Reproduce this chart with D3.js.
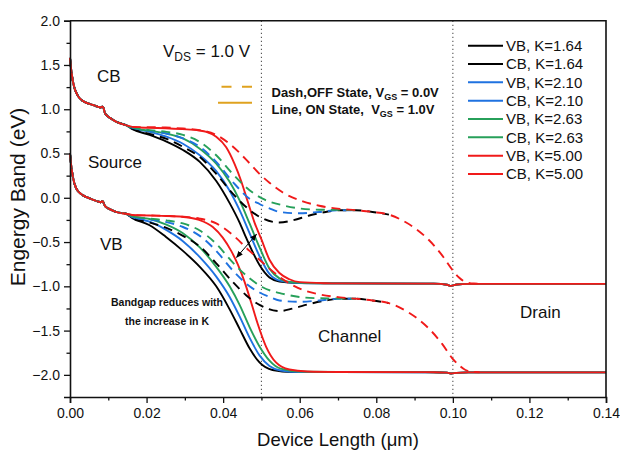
<!DOCTYPE html>
<html>
<head>
<meta charset="utf-8">
<script src="https://cdn.jsdelivr.net/npm/d3@7"></script>
<style>
  body { margin: 0; background: #fff; }
  text { font-family: "Liberation Sans", Arial, Helvetica, sans-serif; fill: #111; }
</style>
</head>
<body>
<svg id="chart" width="620" height="457"></svg>
<script>
// ---- band-edge profiles, [position (µm), energy (eV)] ----
// shared source-side segment (identical for every K and gate state)
const sourceCB = [[0,1.58],[0.0003,1.45],[0.0007,1.33],[0.0011,1.25],[0.0016,1.19],[0.0024,1.13],[0.0033,1.095],[0.0042,1.075],[0.0059,1.05],[0.0072,1.03],[0.0080,1.02],[0.0084,1.03],[0.0087,1.02],[0.0091,0.96],[0.0096,0.93],[0.0105,0.9],[0.012,0.86],[0.0146,0.82]];
const sourceVB = [[0,0.50],[0.0003,0.37],[0.0007,0.25],[0.0011,0.17],[0.0016,0.11],[0.0024,0.06],[0.0033,0.03],[0.0042,0.01],[0.0059,-0.02],[0.0072,-0.04],[0.0080,-0.05],[0.0084,-0.04],[0.0087,-0.05],[0.0091,-0.09],[0.0096,-0.11],[0.0105,-0.13],[0.012,-0.16],[0.0146,-0.18]];

// ON state (VGS = 1.0 V), channel part
const onCB_164 = [[0.0163,0.775],[0.0208,0.71],[0.0252,0.635],[0.0295,0.54],[0.0339,0.405],[0.0382,0.19],[0.0417,-0.06],[0.0443,-0.28],[0.046,-0.45],[0.0478,-0.62],[0.0495,-0.76],[0.0521,-0.9],[0.0547,-0.945],[0.06,-0.963]];
const onCB_210 = [[0.0163,0.785],[0.0208,0.745],[0.0252,0.69],[0.0295,0.61],[0.0339,0.48],[0.0382,0.3],[0.0417,0.08],[0.0443,-0.14],[0.0469,-0.4],[0.0495,-0.66],[0.0521,-0.86],[0.0547,-0.935],[0.06,-0.962]];
const onCB_263 = [[0.0163,0.79],[0.0208,0.757],[0.0252,0.725],[0.0295,0.67],[0.0339,0.555],[0.0382,0.385],[0.0417,0.18],[0.0443,-0.03],[0.0469,-0.29],[0.0495,-0.56],[0.0521,-0.8],[0.0547,-0.91],[0.0573,-0.95],[0.062,-0.963]];
const onCB_500 = [[0.0163,0.80],[0.0208,0.79],[0.025,0.785],[0.0293,0.775],[0.0337,0.76],[0.0356,0.745],[0.0382,0.69],[0.0408,0.57],[0.043,0.38],[0.0447,0.19],[0.0464,-0.04],[0.0482,-0.28],[0.05,-0.47],[0.0521,-0.7],[0.0547,-0.85],[0.0573,-0.92],[0.06,-0.953],[0.0668,-0.965]];
const onTailCB = [[0.07,-0.967],[0.095,-0.97],[0.0985,-0.982],[0.0995,-0.995],[0.101,-0.98],[0.104,-0.972],[0.14,-0.972]];

const onVB_164 = [[0.0163,-0.23],[0.0208,-0.31],[0.025,-0.44],[0.0295,-0.6],[0.0339,-0.78],[0.0382,-1.0],[0.0417,-1.26],[0.0443,-1.48],[0.0469,-1.7],[0.0495,-1.86],[0.0529,-1.945],[0.058,-1.967]];
const onVB_210 = [[0.0163,-0.22],[0.0208,-0.27],[0.025,-0.36],[0.0295,-0.49],[0.0339,-0.67],[0.0382,-0.89],[0.0417,-1.12],[0.0443,-1.34],[0.0469,-1.58],[0.0495,-1.78],[0.0521,-1.9],[0.055,-1.95],[0.06,-1.967]];
const onVB_263 = [[0.0163,-0.21],[0.0208,-0.24],[0.025,-0.3],[0.0295,-0.4],[0.0339,-0.56],[0.0382,-0.78],[0.0417,-1.0],[0.0443,-1.21],[0.0469,-1.46],[0.0495,-1.68],[0.0521,-1.84],[0.055,-1.93],[0.06,-1.962]];
const onVB_500 = [[0.0163,-0.195],[0.0207,-0.2],[0.025,-0.205],[0.0293,-0.215],[0.0337,-0.25],[0.0373,-0.33],[0.0399,-0.45],[0.0421,-0.6],[0.0438,-0.75],[0.0456,-0.95],[0.0473,-1.18],[0.049,-1.42],[0.0512,-1.68],[0.0538,-1.86],[0.0573,-1.94],[0.062,-1.962]];
const onTailVB = [[0.07,-1.967],[0.095,-1.97],[0.0985,-1.975],[0.0995,-1.985],[0.101,-1.977],[0.104,-1.972],[0.14,-1.972]];

// OFF state (VGS = 0.0 V), channel part
const offCB_164 = [[0.0163,0.78],[0.0208,0.72],[0.0252,0.665],[0.0295,0.575],[0.0339,0.46],[0.0382,0.27],[0.0425,0.047],[0.046,-0.104],[0.0495,-0.215],[0.0547,-0.28],[0.0582,-0.255],[0.0625,-0.2],[0.0668,-0.16],[0.0705,-0.14]];
const offCB_210 = [[0.0163,0.79],[0.0208,0.756],[0.0252,0.726],[0.0295,0.67],[0.0339,0.575],[0.0382,0.405],[0.0425,0.18],[0.0469,-0.01],[0.0495,-0.07],[0.0521,-0.12],[0.0547,-0.16],[0.0599,-0.175],[0.0651,-0.16],[0.0705,-0.14]];
const offCB_263 = [[0.0163,0.795],[0.0208,0.764],[0.0252,0.745],[0.0295,0.71],[0.0339,0.63],[0.0382,0.48],[0.0425,0.27],[0.0469,0.085],[0.0503,-0.01],[0.0556,-0.085],[0.0599,-0.12],[0.0651,-0.135],[0.0705,-0.137]];
const offCB_500 = [[0.0163,0.80],[0.0207,0.797],[0.025,0.793],[0.0295,0.782],[0.0339,0.764],[0.0382,0.71],[0.0425,0.58],[0.0469,0.39],[0.0495,0.27],[0.0521,0.17],[0.0556,0.06],[0.0608,-0.04],[0.0651,-0.09],[0.0705,-0.125]];
const offTailCB = [[0.0747,-0.14],[0.079,-0.16],[0.0833,-0.19],[0.0868,-0.255],[0.0903,-0.35],[0.0938,-0.48],[0.0972,-0.65],[0.0998,-0.81],[0.1016,-0.9],[0.1033,-0.95],[0.1055,-0.968],[0.107,-0.97]];

const offVB_164 = [[0.0163,-0.23],[0.0208,-0.28],[0.0252,-0.34],[0.0295,-0.43],[0.0339,-0.55],[0.0382,-0.74],[0.0425,-0.95],[0.046,-1.1],[0.0495,-1.21],[0.0547,-1.28],[0.0582,-1.25],[0.0625,-1.2],[0.0668,-1.16],[0.0705,-1.14]];
const offVB_210 = [[0.0163,-0.22],[0.0208,-0.245],[0.0252,-0.275],[0.0295,-0.33],[0.0339,-0.43],[0.0382,-0.6],[0.0425,-0.82],[0.0469,-1.0],[0.0495,-1.07],[0.0521,-1.12],[0.0547,-1.16],[0.0599,-1.175],[0.0651,-1.16],[0.0705,-1.14]];
const offVB_263 = [[0.0163,-0.21],[0.0208,-0.235],[0.0252,-0.255],[0.0295,-0.29],[0.0339,-0.37],[0.0382,-0.52],[0.0425,-0.73],[0.0469,-0.91],[0.0503,-1.01],[0.0556,-1.085],[0.0599,-1.12],[0.0651,-1.135],[0.0705,-1.137]];
const offVB_500 = [[0.0163,-0.195],[0.0207,-0.2],[0.025,-0.205],[0.0295,-0.215],[0.0339,-0.235],[0.0382,-0.29],[0.0425,-0.42],[0.0469,-0.6],[0.0495,-0.7],[0.0521,-0.8],[0.0556,-0.92],[0.0608,-1.04],[0.0651,-1.09],[0.0705,-1.125]];
const offTailVB = [[0.0747,-1.14],[0.079,-1.16],[0.0833,-1.19],[0.0868,-1.255],[0.0903,-1.35],[0.0938,-1.48],[0.0972,-1.65],[0.0998,-1.81],[0.1016,-1.89],[0.1033,-1.945],[0.1055,-1.968],[0.107,-1.97]];

const kValues = ["1.64", "2.10", "2.63", "5.00"];
const kColors = ["#000000", "#1f72e0", "#27a05a", "#f01a1a"];
// how far (µm) each OFF-state dashed trace is drawn once it joins the common tail
const offTailEnd = [0.084, 0.076, 0.076, 0.107];
const xTicks = [0, 0.02, 0.04, 0.06, 0.08, 0.10, 0.12, 0.14];
const yTicks = [-2.0, -1.5, -1.0, -0.5, 0.0, 0.5, 1.0, 1.5, 2.0];
const regionBounds = [0.05, 0.10];

// ---- assemble series ----
const onCB = [onCB_164, onCB_210, onCB_263, onCB_500];
const onVB = [onVB_164, onVB_210, onVB_263, onVB_500];
const offCB = [offCB_164, offCB_210, offCB_263, offCB_500];
const offVB = [offVB_164, offVB_210, offVB_263, offVB_500];

const solidSeries = [], dashedSeries = [];
kValues.forEach((k, i) => {
  const upTo = p => p[0] <= offTailEnd[i];
  solidSeries.push({ color: kColors[i], pts: sourceVB.concat(onVB[i], onTailVB) });
  solidSeries.push({ color: kColors[i], pts: sourceCB.concat(onCB[i], onTailCB) });
  dashedSeries.push({ color: kColors[i], pts: sourceVB.concat(offVB[i], offTailVB.filter(upTo)) });
  dashedSeries.push({ color: kColors[i], pts: sourceCB.concat(offCB[i], offTailCB.filter(upTo)) });
});

// ---- layout ----
const svg = d3.select("#chart");
const L = 70, R = 606, T = 20.7, B = 397;
const x = d3.scaleLinear().domain([0, 0.14]).range([L, R]);
const y = d3.scaleLinear().domain([-2.25, 2.0]).range([B, T]);

const line = d3.line().x(d => x(d[0])).y(d => y(d[1])).curve(d3.curveMonotoneX);

// region separators
svg.selectAll(".sep").data(regionBounds).join("line")
  .attr("x1", d => x(d)).attr("x2", d => x(d))
  .attr("y1", T).attr("y2", B)
  .attr("stroke", "#555").attr("stroke-width", 1.1)
  .attr("stroke-dasharray", "1.3,2.7");

const plot = svg.append("g");
plot.selectAll(".solid").data(solidSeries).join("path")
  .attr("d", d => line(d.pts)).attr("fill", "none")
  .attr("stroke", d => d.color).attr("stroke-width", 1.9);
plot.selectAll(".dash").data(dashedSeries).join("path")
  .attr("d", d => line(d.pts)).attr("fill", "none")
  .attr("stroke", d => d.color).attr("stroke-width", 1.9)
  .attr("stroke-dasharray", "9,6");

// ---- axes ----
const xAxis = d3.axisBottom(x).tickValues(xTicks).tickFormat(d3.format(".2f")).tickSize(6).tickPadding(5);
const xMinor = d3.axisBottom(x).tickValues(d3.range(0.01, 0.14, 0.02)).tickFormat("").tickSize(3.5);
const yAxis = d3.axisLeft(y).tickValues(yTicks).tickFormat(d3.format(".1f")).tickSize(6).tickPadding(4);
const yMinor = d3.axisLeft(y).tickValues(d3.range(-1.75, 2.0, 0.5)).tickFormat("").tickSize(3.5);

function styleAxis(g) {
  g.select(".domain").attr("stroke", "#111").attr("stroke-width", 1.6);
  g.selectAll(".tick line").attr("stroke", "#111").attr("stroke-width", 1.3);
  g.selectAll(".tick text").attr("font-size", 14).attr("fill", "#111")
    .attr("font-family", "Liberation Sans, Arial, sans-serif");
}
svg.append("g").attr("transform", `translate(0,${B})`).call(xMinor).call(styleAxis).select(".domain").remove();
svg.append("g").attr("transform", `translate(0,${B})`).call(xAxis).call(styleAxis);
svg.append("g").attr("transform", `translate(${L},0)`).call(yMinor).call(styleAxis).select(".domain").remove();
svg.append("g").attr("transform", `translate(${L},0)`).call(yAxis).call(styleAxis);
// top and right frame
svg.append("path").attr("d", `M${L},${T}H${R}V${B}`).attr("fill", "none")
  .attr("stroke", "#111").attr("stroke-width", 1.6);

// axis titles
svg.append("text").attr("x", (L + R) / 2).attr("y", 446).attr("text-anchor", "middle")
  .attr("font-size", 18.5).text("Device Length (\u03bcm)");
svg.append("text").attr("transform", "translate(25,197) rotate(-90)")
  .attr("text-anchor", "middle").attr("font-size", 21).text("Engergy Band (eV)");

// ---- legend ----
const legendItems = [];
kValues.forEach((k, i) => {
  legendItems.push({ label: `VB, K=${k}`, color: kColors[i] });
  legendItems.push({ label: `CB, K=${k}`, color: kColors[i] });
});
const lg = svg.append("g");
legendItems.forEach((d, i) => {
  const ly = 45.7 + i * 18.33;
  lg.append("line").attr("x1", 468).attr("x2", 503).attr("y1", ly).attr("y2", ly)
    .attr("stroke", d.color).attr("stroke-width", 2);
  lg.append("text").attr("x", 506).attr("y", ly + 5.3).attr("font-size", 15).text(d.label);
});

// ---- annotations ----
const vds = svg.append("text").attr("x", 163).attr("y", 57).attr("font-size", 17);
vds.append("tspan").text("V");
vds.append("tspan").attr("font-size", 12).attr("dy", 4).text("DS");
vds.append("tspan").attr("dy", -4).text(" = 1.0 V");

const gold = "#dfa21f";
svg.append("line").attr("x1", 221.5).attr("x2", 252).attr("y1", 86.7).attr("y2", 86.7)
  .attr("stroke", gold).attr("stroke-width", 2).attr("stroke-dasharray", "10,10.5");
svg.append("line").attr("x1", 218).attr("x2", 252).attr("y1", 102.7).attr("y2", 102.7)
  .attr("stroke", gold).attr("stroke-width", 2);

function stateLabel(yPos, pre, post) {
  const t = svg.append("text").attr("x", 271.5).attr("y", yPos).attr("font-size", 13)
    .attr("font-weight", "bold").style("white-space", "pre");
  t.append("tspan").text(pre);
  t.append("tspan").attr("font-size", 9).attr("dy", 3).text("GS");
  t.append("tspan").attr("dy", -3).text(post);
}
stateLabel(96.5, "Dash,OFF State, V", " = 0.0V");
stateLabel(113.5, "Line, ON State,  V", " = 1.0V");

const regionLabels = [
  { t: "CB", x: 97, y: 82 },
  { t: "Source", x: 88, y: 168 },
  { t: "VB", x: 100, y: 250 },
  { t: "Channel", x: 318, y: 342 },
  { t: "Drain", x: 520, y: 318 }
];
svg.selectAll(".rl").data(regionLabels).join("text")
  .attr("x", d => d.x).attr("y", d => d.y).attr("font-size", 17).text(d => d.t);

svg.append("text").attr("x", 167).attr("y", 306).attr("text-anchor", "middle")
  .attr("font-size", 10.5).attr("font-weight", "bold").text("Bandgap reduces with");
svg.append("text").attr("x", 167).attr("y", 325).attr("text-anchor", "middle")
  .attr("font-size", 10.5).attr("font-weight", "bold").text("the increase in K");

// double-headed arrow across the channel edge
const defs = svg.append("defs");
defs.append("marker").attr("id", "ah").attr("viewBox", "0 0 10 10").attr("refX", 9).attr("refY", 5)
  .attr("markerWidth", 7).attr("markerHeight", 7).attr("orient", "auto-start-reverse")
  .append("path").attr("d", "M0,1L10,5L0,9z").attr("fill", "#000");
const arrowPts = [[0.0435, -0.673], [0.0487, -0.413]];
svg.append("line")
  .attr("x1", x(arrowPts[0][0])).attr("y1", y(arrowPts[0][1]))
  .attr("x2", x(arrowPts[1][0])).attr("y2", y(arrowPts[1][1]))
  .attr("stroke", "#000").attr("stroke-width", 1)
  .attr("marker-start", "url(#ah)").attr("marker-end", "url(#ah)");
</script>
</body>
</html>
